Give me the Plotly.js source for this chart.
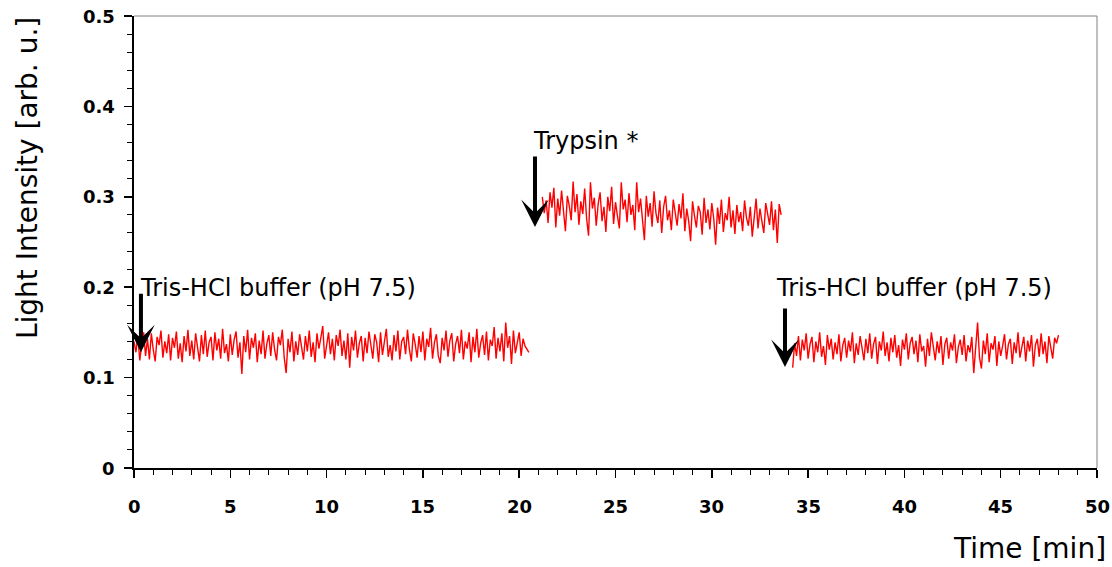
<!DOCTYPE html>
<html>
<head>
<meta charset="utf-8">
<script src="https://cdn.plot.ly/plotly-3.0.1.min.js"></script>
<style>html,body{margin:0;padding:0;background:#fff;}#chart{width:1112px;height:567px;}</style>
</head>
<body>
<div id="chart"></div>
<script>
// Sampling of the recorded traces (minutes)
const seg1Start = 0.0, seg2Start = 21.2, seg3Start = 34.2, sampleStep = 0.1;

// Light intensity readings [arb. u.] — buffer phase 1
const seg1Values = [
0.140,0.128,0.146,0.119,0.137,0.150,0.124,0.143,0.120,0.149,
0.131,0.118,0.145,0.136,0.152,0.122,0.140,0.127,0.148,0.119,
0.144,0.133,0.151,0.121,0.138,0.117,0.146,0.129,0.153,0.124,
0.141,0.120,0.149,0.135,0.118,0.147,0.126,0.152,0.123,0.139,
0.145,0.119,0.150,0.130,0.143,0.121,0.154,0.127,0.137,0.118,
0.148,0.125,0.142,0.151,0.122,0.139,0.104,0.146,0.128,0.153,
0.120,0.144,0.133,0.149,0.117,0.141,0.126,0.152,0.121,0.138,
0.147,0.124,0.150,0.131,0.119,0.145,0.136,0.153,0.122,0.105,
0.143,0.128,0.151,0.118,0.140,0.125,0.148,0.134,0.120,0.146,
0.129,0.152,0.123,0.139,0.117,0.149,0.132,0.144,0.157,0.121,
0.138,0.150,0.126,0.143,0.119,0.147,0.135,0.153,0.124,0.141,
0.120,0.149,0.111,0.145,0.130,0.152,0.122,0.138,0.146,0.118,
0.144,0.127,0.151,0.133,0.121,0.148,0.139,0.117,0.150,0.125,
0.142,0.154,0.123,0.136,0.119,0.147,0.129,0.152,0.120,0.140,
0.145,0.126,0.153,0.131,0.118,0.149,0.137,0.122,0.146,0.128,
0.151,0.119,0.143,0.134,0.155,0.121,0.139,0.148,0.124,0.116,
0.144,0.130,0.152,0.123,0.141,0.149,0.118,0.137,0.146,0.127,
0.153,0.120,0.140,0.132,0.150,0.117,0.145,0.128,0.154,0.122,
0.138,0.147,0.125,0.151,0.119,0.142,0.135,0.156,0.121,0.144,
0.129,0.149,0.118,0.161,0.133,0.146,0.115,0.152,0.127,0.140,
0.150,0.124,0.143,0.135,0.131,0.128
];

// Trypsin phase
const seg2Values = [
0.300,0.282,0.296,0.271,0.305,0.288,0.310,0.266,0.298,0.279,
0.307,0.284,0.262,0.301,0.290,0.274,0.317,0.283,0.303,0.269,
0.295,0.281,0.309,0.276,0.257,0.316,0.287,0.299,0.268,0.292,
0.305,0.273,0.289,0.261,0.300,0.284,0.311,0.270,0.294,0.279,
0.265,0.316,0.286,0.297,0.272,0.304,0.280,0.291,0.263,0.316,
0.283,0.298,0.275,0.252,0.301,0.278,0.293,0.267,0.306,0.282,
0.271,0.296,0.260,0.289,0.301,0.274,0.285,0.263,0.297,0.280,
0.268,0.292,0.276,0.304,0.262,0.287,0.273,0.251,0.295,0.279,
0.266,0.290,0.283,0.258,0.299,0.271,0.286,0.264,0.293,0.276,
0.247,0.288,0.270,0.297,0.261,0.282,0.274,0.300,0.266,0.285,
0.259,0.291,0.272,0.283,0.262,0.296,0.277,0.268,0.289,0.256,
0.281,0.298,0.265,0.287,0.273,0.260,0.293,0.279,0.269,0.295,
0.263,0.286,0.249,0.292,0.280
];

// Buffer phase 2
const seg3Values = [
0.111,0.138,0.124,0.146,0.119,0.142,0.130,0.149,0.121,0.137,
0.145,0.117,0.140,0.128,0.150,0.123,0.135,0.114,0.147,0.131,
0.143,0.120,0.139,0.126,0.148,0.118,0.136,0.144,0.122,0.141,
0.129,0.150,0.116,0.138,0.125,0.146,0.133,0.119,0.143,0.127,
0.149,0.121,0.137,0.145,0.115,0.140,0.130,0.151,0.124,0.139,
0.118,0.144,0.128,0.147,0.122,0.136,0.113,0.142,0.131,0.149,
0.120,0.138,0.145,0.126,0.141,0.117,0.148,0.129,0.135,0.112,
0.143,0.124,0.150,0.132,0.119,0.140,0.127,0.146,0.114,0.137,
0.144,0.121,0.139,0.130,0.148,0.116,0.134,0.142,0.125,0.147,
0.118,0.136,0.128,0.145,0.105,0.133,0.161,0.122,0.110,0.141,
0.126,0.149,0.117,0.138,0.131,0.146,0.113,0.140,0.124,0.135,
0.148,0.120,0.137,0.143,0.115,0.139,0.127,0.150,0.122,0.134,
0.145,0.118,0.141,0.129,0.147,0.112,0.136,0.143,0.123,0.149,
0.126,0.140,0.116,0.146,0.133,0.121,0.144,0.138,0.147
];

// Tick values and labels
const xTickVals = [0, 5, 10, 15, 20, 25, 30, 35, 40, 45, 50];
const xTickLabels = ["0", "5", "10", "15", "20", "25", "30", "35", "40", "45", "50"];
const yTickVals = [0, 0.1, 0.2, 0.3, 0.4, 0.5];
const yTickLabels = ["0", "0.1", "0.2", "0.3", "0.4", "0.5"];

// Event labels and arrow targets (time, intensity)
const eventLabels = ["Tris-HCl buffer (pH 7.5)", "Trypsin *", "Tris-HCl buffer (pH 7.5)"];
const labelPos = [[0.2, 0.199], [20.6, 0.3617], [33.25, 0.199]];
const arrowTips = [[0.36, 0.128], [20.82, 0.2666], [33.8, 0.1117]];

const xTitle = "Time [min]";
const yTitle = "Light Intensity [arb. u.]";

function times(start, n) { return Array.from({length: n}, (_, i) => +(start + i * sampleStep).toFixed(3)); }

const allX = [].concat(times(seg1Start, seg1Values.length), [null],
                       times(seg2Start, seg2Values.length), [null],
                       times(seg3Start, seg3Values.length));
const allY = [].concat(seg1Values, [null], seg2Values, [null], seg3Values);

const FONT = "DejaVu Sans, Arial, sans-serif";
const TICKFONT = {family: FONT, size: 18, color: '#000000', weight: 'bold'};

const trace = {
  x: allX, y: allY, type: 'scatter', mode: 'lines',
  line: {color: '#ff0000', width: 1.4}, connectgaps: false, hoverinfo: 'skip'
};

const annotations = [];
eventLabels.forEach((t, i) => {
  annotations.push({
    x: labelPos[i][0], y: labelPos[i][1], xref: 'x', yref: 'y',
    text: t, showarrow: false, xanchor: 'left', yanchor: 'middle',
    font: {family: FONT, size: 24, color: '#000'}
  });
  annotations.push({
    x: arrowTips[i][0], y: arrowTips[i][1], xref: 'x', yref: 'y',
    text: '', showarrow: true, arrowhead: 3, arrowsize: 1.15, arrowwidth: 4,
    arrowcolor: '#000', ax: 0, ay: (i === 1 ? -72 : -60), standoff: 0
  });
});
xTickVals.forEach((v, i) => {
  annotations.push({
    x: v, xref: 'x', y: -0.086, yref: 'paper', text: xTickLabels[i], showarrow: false,
    xanchor: 'center', yanchor: 'middle', font: TICKFONT
  });
});
yTickVals.forEach((v, i) => {
  annotations.push({
    x: -0.0175, xref: 'paper', y: v, yref: 'y', text: yTickLabels[i], showarrow: false,
    xanchor: 'right', yanchor: 'middle', font: TICKFONT
  });
});
annotations.push({
  xref: 'paper', yref: 'paper', x: 1.0114, y: -0.179, xanchor: 'right', yanchor: 'middle',
  text: xTitle, showarrow: false, font: {family: FONT, size: 28, color: '#000'}
});
annotations.push({
  xref: 'paper', yref: 'paper', x: -0.110, y: 0.6416, xanchor: 'center', yanchor: 'middle',
  text: yTitle, textangle: -90, showarrow: false, font: {family: FONT, size: 28, color: '#000'}
});

const layout = {
  width: 1112, height: 567,
  margin: {l: 134, r: 15, t: 16, b: 99, pad: 0},
  paper_bgcolor: '#fff', plot_bgcolor: '#fff',
  showlegend: false,
  xaxis: {
    range: [0, 50], tickmode: 'array', tickvals: xTickVals, showticklabels: false,
    ticks: 'outside', ticklen: 8, tickwidth: 1.5, tickcolor: '#000',
    showline: true, linecolor: '#000', linewidth: 2, showgrid: false, zeroline: false,
    minor: {dtick: 1, tick0: 0, ticks: 'outside', ticklen: 5, tickwidth: 1, tickcolor: '#000', showgrid: false}
  },
  yaxis: {
    range: [0, 0.5], tickmode: 'array', tickvals: yTickVals, showticklabels: false,
    ticks: 'outside', ticklen: 8, tickwidth: 1.5, tickcolor: '#000',
    showline: true, linecolor: '#000', linewidth: 2, showgrid: false, zeroline: false,
    minor: {dtick: 0.02, tick0: 0, ticks: 'outside', ticklen: 5, tickwidth: 1, tickcolor: '#000', showgrid: false}
  },
  shapes: [
    {type: 'line', xref: 'paper', yref: 'paper', x0: 0, x1: 1, y0: 1, y1: 1, line: {color: '#808080', width: 1}},
    {type: 'line', xref: 'paper', yref: 'paper', x0: 1, x1: 1, y0: 0, y1: 1, line: {color: '#808080', width: 1}}
  ],
  annotations: annotations
};

Plotly.newPlot('chart', [trace], layout, {displayModeBar: false, staticPlot: true});
</script>
</body>
</html>
